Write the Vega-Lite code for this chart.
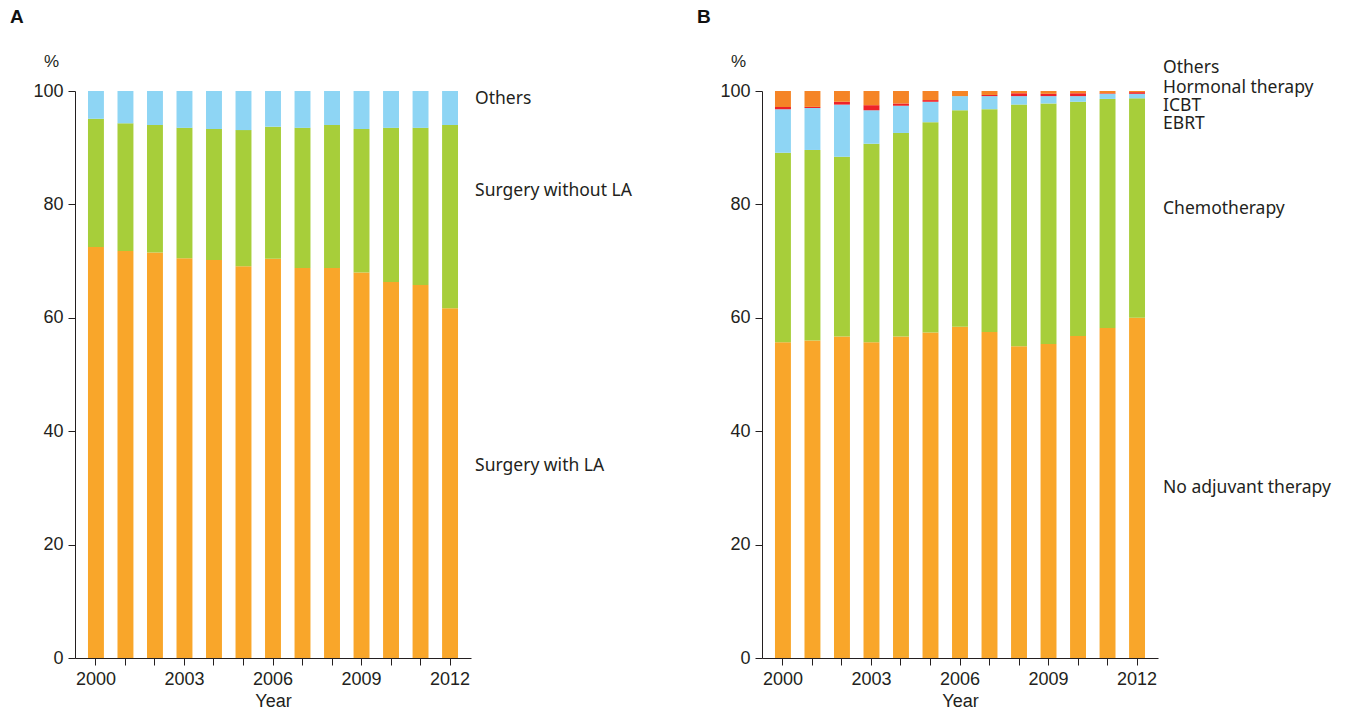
{
  "$schema": "https://vega.github.io/schema/vega-lite/v6.json",
  "padding": {"left": 10, "top": 8, "right": 5, "bottom": 5},
  "background": "white",
  "config": {
    "view": {"stroke": null},
    "axis": {
      "domainColor": "#231F20",
      "tickColor": "#231F20",
      "labelColor": "#231F20",
      "titleColor": "#231F20",
      "labelFont": "Liberation Sans",
      "titleFont": "Liberation Sans",
      "labelFontSize": 18,
      "titleFontSize": 18,
      "titleFontWeight": "normal",
      "tickSize": 7,
      "grid": false
    },
    "title": {"font": "Liberation Sans", "fontSize": 19, "fontWeight": "bold", "color": "#111", "anchor": "start", "frame": "group"}
  },
  "datasets": {
    "a": [
      {"year": "2000", "Surgery with LA": 72.5, "Surgery without LA": 22.6, "Others": 4.9},
      {"year": "2001", "Surgery with LA": 71.8, "Surgery without LA": 22.5, "Others": 5.7},
      {"year": "2002", "Surgery with LA": 71.5, "Surgery without LA": 22.5, "Others": 6.0},
      {"year": "2003", "Surgery with LA": 70.5, "Surgery without LA": 23.0, "Others": 6.5},
      {"year": "2004", "Surgery with LA": 70.2, "Surgery without LA": 23.1, "Others": 6.7},
      {"year": "2005", "Surgery with LA": 69.1, "Surgery without LA": 24.0, "Others": 6.9},
      {"year": "2006", "Surgery with LA": 70.4, "Surgery without LA": 23.3, "Others": 6.3},
      {"year": "2007", "Surgery with LA": 68.8, "Surgery without LA": 24.7, "Others": 6.5},
      {"year": "2008", "Surgery with LA": 68.8, "Surgery without LA": 25.2, "Others": 6.0},
      {"year": "2009", "Surgery with LA": 68.0, "Surgery without LA": 25.3, "Others": 6.7},
      {"year": "2010", "Surgery with LA": 66.3, "Surgery without LA": 27.2, "Others": 6.5},
      {"year": "2011", "Surgery with LA": 65.8, "Surgery without LA": 27.7, "Others": 6.5},
      {"year": "2012", "Surgery with LA": 61.7, "Surgery without LA": 32.3, "Others": 6.0}
    ],
    "b": [
      {"year": "2000", "No adjuvant therapy": 55.7, "Chemotherapy": 33.4, "EBRT": 7.7, "Hormonal therapy": 0.4, "Others": 2.8},
      {"year": "2001", "No adjuvant therapy": 56.0, "Chemotherapy": 33.6, "EBRT": 7.4, "Hormonal therapy": 0.2, "Others": 2.8},
      {"year": "2002", "No adjuvant therapy": 56.7, "Chemotherapy": 31.7, "EBRT": 9.2, "Hormonal therapy": 0.5, "Others": 1.9},
      {"year": "2003", "No adjuvant therapy": 55.7, "Chemotherapy": 35.0, "EBRT": 5.9, "Hormonal therapy": 0.9, "Others": 2.5},
      {"year": "2004", "No adjuvant therapy": 56.7, "Chemotherapy": 35.9, "EBRT": 4.8, "Hormonal therapy": 0.4, "Others": 2.2},
      {"year": "2005", "No adjuvant therapy": 57.4, "Chemotherapy": 37.1, "EBRT": 3.6, "Hormonal therapy": 0.3, "Others": 1.6},
      {"year": "2006", "No adjuvant therapy": 58.4, "Chemotherapy": 38.2, "EBRT": 2.5, "Hormonal therapy": 0.0, "Others": 0.9},
      {"year": "2007", "No adjuvant therapy": 57.5, "Chemotherapy": 39.3, "EBRT": 2.3, "Hormonal therapy": 0.2, "Others": 0.7},
      {"year": "2008", "No adjuvant therapy": 55.0, "Chemotherapy": 42.6, "EBRT": 1.5, "Hormonal therapy": 0.5, "Others": 0.4},
      {"year": "2009", "No adjuvant therapy": 55.4, "Chemotherapy": 42.4, "EBRT": 1.3, "Hormonal therapy": 0.4, "Others": 0.5},
      {"year": "2010", "No adjuvant therapy": 56.8, "Chemotherapy": 41.3, "EBRT": 1.0, "Hormonal therapy": 0.5, "Others": 0.4},
      {"year": "2011", "No adjuvant therapy": 58.2, "Chemotherapy": 40.4, "EBRT": 0.9, "Hormonal therapy": 0.1, "Others": 0.4},
      {"year": "2012", "No adjuvant therapy": 60.0, "Chemotherapy": 38.7, "EBRT": 0.8, "Hormonal therapy": 0.3, "Others": 0.2}
    ],
    "orderA": [
      {"cat": "Surgery with LA", "rank": 1},
      {"cat": "Surgery without LA", "rank": 2},
      {"cat": "Others", "rank": 3}
    ],
    "orderB": [
      {"cat": "No adjuvant therapy", "rank": 1},
      {"cat": "Chemotherapy", "rank": 2},
      {"cat": "EBRT", "rank": 3},
      {"cat": "Hormonal therapy", "rank": 4},
      {"cat": "Others", "rank": 5}
    ],
    "la": [
      {"label": "Others", "y": 98.6},
      {"label": "Surgery without LA", "y": 82.4},
      {"label": "Surgery with LA", "y": 33.9}
    ],
    "lb": [
      {"label": "Others", "y": 104.1},
      {"label": "Hormonal therapy", "y": 100.6},
      {"label": "ICBT", "y": 97.4},
      {"label": "EBRT", "y": 94.2},
      {"label": "Chemotherapy", "y": 79.2},
      {"label": "No adjuvant therapy", "y": 30.0}
    ]
  },
  "resolve": {"scale": {"color": "independent"}},
  "hconcat": [
    {
      "title": {"text": "A", "dx": -65, "offset": 25},
      "width": 396,
      "height": 567,
      "layer": [
        {
          "data": {"name": "a"},
          "transform": [
            {"fold": ["Surgery with LA", "Surgery without LA", "Others"], "as": ["cat", "value"]},
            {"lookup": "cat", "from": {"data": {"name": "orderA"}, "key": "cat", "fields": ["rank"]}}
          ],
          "mark": {"type": "bar"},
          "encoding": {
            "x": {"field": "year", "type": "nominal", "scale": {"paddingInner": 0.46, "paddingOuter": 0.44},
              "axis": {"title": "Year", "labelAngle": 0, "labelExpr": "(toNumber(datum.value) - 2000) % 3 == 0 ? datum.value : ''", "labelPadding": 5, "titlePadding": 4}},
            "y": {"field": "value", "type": "quantitative", "stack": "zero", "scale": {"domain": [0, 100], "nice": false},
              "axis": {"values": [0, 20, 40, 60, 80, 100], "title": "%", "titleAngle": 0, "titleAlign": "center", "titleBaseline": "alphabetic", "titleX": -24, "titleY": -25, "titleFontSize": 17, "labelPadding": 5}},
            "color": {"field": "cat", "type": "nominal",
              "scale": {"domain": ["Surgery with LA", "Surgery without LA", "Others"], "range": ["#F9A62A", "#A7CE3A", "#8ED5F4"]}, "legend": null},
            "order": {"field": "rank", "type": "quantitative", "sort": "ascending"}
          }
        },
        {
          "data": {"name": "la"},
          "mark": {"type": "text", "align": "left", "baseline": "middle", "dx": 25, "font": "Noto Sans", "fontSize": 17.5, "color": "#231F20"},
          "encoding": {
            "x": {"datum": "2012", "type": "nominal"},
            "y": {"field": "y", "type": "quantitative"},
            "text": {"field": "label"}
          }
        }
      ]
    },
    {
      "title": {"text": "B", "dx": -65, "offset": 25},
      "width": 396,
      "height": 567,
      "layer": [
        {
          "data": {"name": "b"},
          "transform": [
            {"fold": ["No adjuvant therapy", "Chemotherapy", "EBRT", "Hormonal therapy", "Others"], "as": ["cat", "value"]},
            {"lookup": "cat", "from": {"data": {"name": "orderB"}, "key": "cat", "fields": ["rank"]}}
          ],
          "mark": {"type": "bar"},
          "encoding": {
            "x": {"field": "year", "type": "nominal", "scale": {"paddingInner": 0.46, "paddingOuter": 0.44},
              "axis": {"title": "Year", "labelAngle": 0, "labelExpr": "(toNumber(datum.value) - 2000) % 3 == 0 ? datum.value : ''", "labelPadding": 5, "titlePadding": 4}},
            "y": {"field": "value", "type": "quantitative", "stack": "zero", "scale": {"domain": [0, 100], "nice": false},
              "axis": {"values": [0, 20, 40, 60, 80, 100], "title": "%", "titleAngle": 0, "titleAlign": "center", "titleBaseline": "alphabetic", "titleX": -24, "titleY": -25, "titleFontSize": 17, "labelPadding": 5}},
            "color": {"field": "cat", "type": "nominal",
              "scale": {"domain": ["No adjuvant therapy", "Chemotherapy", "EBRT", "Hormonal therapy", "Others"], "range": ["#F9A62A", "#A7CE3A", "#8ED5F4", "#EE2229", "#F58426"]}, "legend": null},
            "order": {"field": "rank", "type": "quantitative", "sort": "ascending"}
          }
        },
        {
          "data": {"name": "lb"},
          "mark": {"type": "text", "align": "left", "baseline": "middle", "dx": 26, "font": "Noto Sans", "fontSize": 17.5, "color": "#231F20"},
          "encoding": {
            "x": {"datum": "2012", "type": "nominal"},
            "y": {"field": "y", "type": "quantitative"},
            "text": {"field": "label"}
          }
        }
      ]
    }
  ],
  "spacing": 291,
  "bounds": "flush"
}
